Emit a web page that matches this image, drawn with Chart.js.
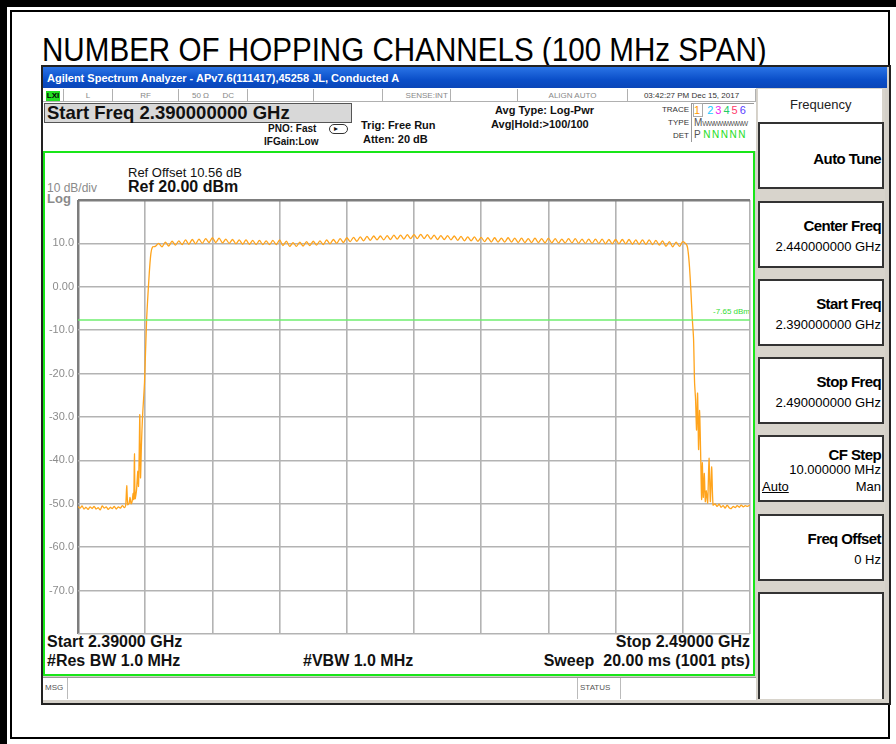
<!DOCTYPE html>
<html lang="en">
<head>
<meta charset="UTF-8">
<title>Number of Hopping Channels</title>
<script src="https://cdn.jsdelivr.net/npm/chart.js"></script>
<style>
  body { margin: 0; width: 896px; height: 744px; background: #fff; overflow: hidden; position: relative; font-family: 'Liberation Sans', Arial, sans-serif; }
  .a { position: absolute; }
  .t { position: absolute; white-space: nowrap; line-height: 1; color: #111; }
  .b { font-weight: bold; }
  .g { color: #8a8a8a; }
  .cell { position: absolute; top: 89px; height: 13px; border-right: 1px solid #b0b0b0; font-size: 8px; color: #888; line-height: 13px; text-align: center; }
  .key { position: absolute; left: 758px; width: 122px; background: #fff; border: 2px solid #333; }
  .key .k { position: absolute; right: 1px; font-weight: bold; font-size: 15px; letter-spacing: -0.6px; line-height: 1; white-space: nowrap; }
  .key .v { position: absolute; right: 1px; font-size: 13px; line-height: 1; white-space: nowrap; }
</style>
</head>
<body>
<!-- page frame -->
<div class="a" style="left:0;top:0;width:896px;height:7px;background:#000"></div>
<div class="a" style="left:0;top:0;width:7px;height:744px;background:#000"></div>
<div class="a" style="left:10px;top:10px;width:876px;height:725px;border:2px solid #000"></div>

<div class="t" style="left:42px;top:33px;font-family:'Liberation Sans Narrow','Liberation Sans',Arial,sans-serif;font-size:29.6px;color:#000;transform:scaleY(1.12);transform-origin:0 0">NUMBER OF HOPPING CHANNELS (100 MHz SPAN)</div>

<!-- analyzer window -->
<div class="a" style="left:41px;top:65px;width:846px;height:636px;background:#d4d0c8;border:2px solid #222"></div>
<div class="a" style="left:43px;top:67px;width:844px;height:21px;background:linear-gradient(#2a74e6,#0b4fc9 60%,#0a46b8)"></div>
<div class="t b" style="left:47px;top:73px;font-size:11px;color:#fff">Agilent Spectrum Analyzer - APv7.6(111417),45258 JL, Conducted A</div>

<!-- status row -->
<div class="a" style="left:43px;top:88px;width:713px;height:63px;background:#fff"></div>
<div class="a" style="left:43px;top:101px;width:713px;height:1px;background:#b0b0b0"></div>
<div class="cell" style="left:43px;width:20px"><span style="display:inline-block;background:#22dd22;color:#000;font-weight:bold;font-size:8px;line-height:10px;padding:0 1px">LXI</span></div>
<div class="cell" style="left:64px;width:48px">L</div>
<div class="cell" style="left:113px;width:65px">RF</div>
<div class="cell" style="left:179px;width:68px">50 &Omega;&nbsp;&nbsp;&nbsp;&nbsp;&nbsp;&nbsp;DC</div>
<div class="cell" style="left:248px;width:65px"></div>
<div class="cell" style="left:314px;width:68px"></div>
<div class="cell" style="left:383px;width:67px;text-align:right;padding-right:0">SENSE:INT&nbsp;</div>
<div class="cell" style="left:451px;width:66px"></div>
<div class="cell" style="left:518px;width:109px">ALIGN AUTO</div>
<div class="cell" style="left:628px;width:127px;color:#333">03:42:27 PM Dec 15, 2017</div>

<!-- measurement header -->
<div class="a" style="left:44px;top:103px;width:306px;height:18px;background:#d8d8d8;border:1px solid #555"></div>
<div class="t b" style="left:47px;top:104px;font-size:18.5px">Start Freq 2.390000000 GHz</div>
<div class="t b" style="left:268px;top:124px;font-size:10px">PNO: Fast</div>
<div class="t b" style="left:264px;top:137px;font-size:10px">IFGain:Low</div>
<div class="a" style="left:329px;top:124px;width:17px;height:8px;border:1px solid #333;border-radius:5px"></div>
<div class="t" style="left:334px;top:125px;font-size:8px">&#9656;</div>
<div class="t b" style="left:361px;top:120px;font-size:11px">Trig: Free Run</div>
<div class="t b" style="left:363px;top:134px;font-size:11px">Atten: 20 dB</div>
<div class="t b" style="left:495px;top:105px;font-size:11px">Avg Type: Log-Pwr</div>
<div class="t b" style="left:491px;top:119px;font-size:11px">Avg|Hold:&gt;100/100</div>
<div class="t" style="right:207px;top:106px;font-size:8px;color:#333">TRACE</div>
<div class="t" style="right:207px;top:119px;font-size:8px;color:#333">TYPE</div>
<div class="t" style="right:207px;top:132px;font-size:8px;color:#333">DET</div>
<div class="a" style="left:691px;top:103px;width:62px;height:38px;border-left:1px solid #999;border-top:1px solid #999"></div>
<div class="t" style="left:694px;top:105px;font-size:11px;letter-spacing:2px"><span style="color:#ff9a00;outline:1px solid #aaa">1</span> <span style="color:#19c8ff">2</span><span style="color:#ee22ee">3</span><span style="color:#22cc66">4</span><span style="color:#ff3a6a">5</span><span style="color:#5a3dff">6</span></div>
<div class="t" style="left:694px;top:118px;font-size:10px;color:#555">M<span style="font-size:7px;letter-spacing:-1px">WWWWWWWW</span></div>
<div class="t" style="left:694px;top:130px;font-size:10px;color:#555">P <span style="color:#22dd22;letter-spacing:1.5px">NNNNN</span></div>

<!-- soft keys -->
<div class="a" style="left:757px;top:88px;width:128px;height:613px;background:#d8d4cc"></div>
<div class="a" style="left:758px;top:89px;width:124px;height:33px;background:#fff"></div>
<div class="t" style="left:790px;top:98px;font-size:13px;color:#222">Frequency</div>
<div class="key" style="top:122px;height:63px"><div class="k" style="top:27px">Auto Tune</div></div>
<div class="key" style="top:201px;height:63px"><div class="k" style="top:15px">Center Freq</div><div class="v" style="top:37px">2.440000000 GHz</div></div>
<div class="key" style="top:279px;height:63px"><div class="k" style="top:15px">Start Freq</div><div class="v" style="top:37px">2.390000000 GHz</div></div>
<div class="key" style="top:357px;height:63px"><div class="k" style="top:15px">Stop Freq</div><div class="v" style="top:37px">2.490000000 GHz</div></div>
<div class="key" style="top:435px;height:63px"><div class="k" style="top:10px">CF Step</div><div class="v" style="top:26px">10.000000 MHz</div><div class="v" style="top:43px;left:2px;text-decoration:underline">Auto</div><div class="v" style="top:43px">Man</div></div>
<div class="key" style="top:514px;height:63px"><div class="k" style="top:15px">Freq Offset</div><div class="v" style="top:37px">0 Hz</div></div>
<div class="key" style="top:592px;height:105px;border-bottom:none"></div>

<!-- plot panel -->
<div class="a" style="left:43px;top:151px;width:708px;height:521px;background:#fff;border:2px solid #19e619"></div>
<div class="t" style="left:128px;top:166px;font-size:13px">Ref Offset 10.56 dB</div>
<div class="t b" style="left:128px;top:179px;font-size:16px">Ref 20.00 dBm</div>
<div class="t g" style="left:47px;top:182px;font-size:12px">10 dB/div</div>
<div class="t g b" style="left:47px;top:192px;font-size:13px">Log</div>
<div class="t" style="right:146px;top:308px;font-size:8px;color:#33dd33">-7.65 dBm</div>
<div class="t b" style="left:47px;top:634px;font-size:16px">Start 2.39000 GHz</div>
<div class="t b" style="right:146px;top:634px;font-size:16px">Stop 2.49000 GHz</div>
<div class="t b" style="left:47px;top:653px;font-size:16px">#Res BW 1.0 MHz</div>
<div class="t b" style="left:303px;top:653px;font-size:16px">#VBW 1.0 MHz</div>
<div class="t b" style="right:146px;top:653px;font-size:16px">Sweep&nbsp; 20.00 ms (1001 pts)</div>
<canvas id="spec" class="a" style="left:45px;top:153px" width="708" height="519"></canvas>

<!-- message bar -->
<div class="a" style="left:43px;top:677px;width:713px;height:22px;background:#fff;border-top:1px solid #999"></div>
<div class="t" style="left:45px;top:684px;font-size:8px;color:#555">MSG</div>
<div class="a" style="left:67px;top:678px;width:1px;height:21px;background:#bbb"></div>
<div class="a" style="left:577px;top:678px;width:42px;height:21px;border-left:1px solid #bbb;border-right:1px solid #bbb"></div>
<div class="t" style="left:580px;top:684px;font-size:8px;color:#555">STATUS</div>

<script>
// sweep settings
const startMHz = 2390;
const stopMHz = 2490;
const refLevel = 20;
const bottomLevel = -80;
const displayLine = -7.65;
const yTickLabels = ['', '10.0', '0.00', '-10.0', '-20.0', '-30.0', '-40.0', '-50.0', '-60.0', '-70.0', ''];

// trace 1 (max hold)
const lowSideMHz = [2390.0, 2390.3, 2390.6, 2390.9, 2391.2, 2391.5, 2391.8, 2392.1, 2392.4, 2392.7,
  2393.0, 2393.3, 2393.6, 2393.9, 2394.2, 2394.5, 2394.8, 2395.1, 2395.4, 2395.7,
  2396.0, 2396.3, 2396.6, 2396.9, 2397.1, 2397.25, 2397.4, 2397.6, 2397.75, 2397.9,
  2398.05, 2398.2, 2398.3, 2398.4, 2398.5, 2398.7, 2398.9, 2399.0, 2399.1, 2399.2,
  2399.3, 2399.45, 2399.6, 2399.9, 2400.2, 2400.6, 2400.85, 2401.1];
const lowSideDbm = [-50.6, -51.0, -50.5, -51.2, -50.8, -51.3, -50.7, -51.1, -50.6, -51.2,
  -50.9, -51.4, -50.5, -51.0, -50.7, -51.3, -50.8, -51.1, -50.6, -51.2,
  -50.7, -51.0, -50.4, -50.9, -50.3, -45.8, -50.2, -49.9, -48.5, -50.0,
  -49.5, -47.6, -49.0, -38.5, -48.8, -47.0, -42.5, -46.0, -39.0, -29.5,
  -44.0, -36.0, -30.0, -22.0, -8.0, 3.0, 7.7, 9.2];

const bandMHz = [2401.5, 2402, 2402.5, 2403, 2403.5, 2404, 2404.5, 2405, 2405.5, 2406,
  2406.5, 2407, 2407.5, 2408, 2408.5, 2409, 2409.5, 2410, 2410.5, 2411,
  2411.5, 2412, 2412.5, 2413, 2413.5, 2414, 2414.5, 2415, 2415.5, 2416,
  2416.5, 2417, 2417.5, 2418, 2418.5, 2419, 2419.5, 2420, 2420.5, 2421,
  2421.5, 2422, 2422.5, 2423, 2423.5, 2424, 2424.5, 2425, 2425.5, 2426,
  2426.5, 2427, 2427.5, 2428, 2428.5, 2429, 2429.5, 2430, 2430.5, 2431,
  2431.5, 2432, 2432.5, 2433, 2433.5, 2434, 2434.5, 2435, 2435.5, 2436,
  2436.5, 2437, 2437.5, 2438, 2438.5, 2439, 2439.5, 2440, 2440.5, 2441,
  2441.5, 2442, 2442.5, 2443, 2443.5, 2444, 2444.5, 2445, 2445.5, 2446,
  2446.5, 2447, 2447.5, 2448, 2448.5, 2449, 2449.5, 2450, 2450.5, 2451,
  2451.5, 2452, 2452.5, 2453, 2453.5, 2454, 2454.5, 2455, 2455.5, 2456,
  2456.5, 2457, 2457.5, 2458, 2458.5, 2459, 2459.5, 2460, 2460.5, 2461,
  2461.5, 2462, 2462.5, 2463, 2463.5, 2464, 2464.5, 2465, 2465.5, 2466,
  2466.5, 2467, 2467.5, 2468, 2468.5, 2469, 2469.5, 2470, 2470.5, 2471,
  2471.5, 2472, 2472.5, 2473, 2473.5, 2474, 2474.5, 2475, 2475.5, 2476,
  2476.5, 2477, 2477.5, 2478, 2478.5, 2479, 2479.5, 2480];
const bandDbm = [9.3, 10.0, 9.2, 10.3, 9.4, 10.5, 9.6, 10.6, 9.7, 10.8,
  9.8, 10.9, 9.9, 11.0, 10.0, 11.1, 10.2, 11.3, 10.2, 11.2,
  10.1, 11.0, 10.0, 10.9, 9.9, 10.8, 9.8, 10.8, 9.8, 10.7,
  9.7, 10.7, 9.7, 10.6, 9.7, 10.7, 9.7, 10.8, 9.5, 10.5,
  9.3, 10.2, 9.3, 10.3, 9.4, 10.4, 9.5, 10.5, 9.6, 10.6,
  9.7, 10.8, 9.9, 10.9, 10.0, 11.1, 10.2, 11.3, 10.4, 11.4,
  10.5, 11.5, 10.6, 11.6, 10.7, 11.7, 10.8, 11.7, 10.8, 11.8,
  10.9, 11.9, 11.0, 11.9, 11.0, 12.0, 11.1, 12.0, 11.1, 12.1,
  11.1, 12.0, 11.0, 11.9, 10.9, 11.8, 10.9, 11.8, 10.8, 11.7,
  10.7, 11.6, 10.6, 11.5, 10.6, 11.5, 10.5, 11.4, 10.4, 11.3,
  10.3, 11.3, 10.3, 11.2, 10.3, 11.3, 10.3, 11.2, 10.2, 11.2,
  10.2, 11.1, 10.2, 11.2, 10.2, 11.1, 10.1, 11.2, 10.1, 11.1,
  10.1, 11.0, 10.1, 11.1, 10.1, 11.1, 10.0, 11.0, 10.0, 11.0,
  10.0, 11.0, 10.0, 11.0, 9.9, 10.9, 9.9, 10.9, 9.9, 10.9,
  9.9, 10.9, 9.8, 10.8, 9.8, 10.8, 9.8, 10.8, 9.7, 10.7,
  9.6, 10.6, 9.3, 10.4, 9.2, 10.3, 9.3, 10.4];

const highSideMHz = [2480.6, 2480.8, 2481.0, 2481.2, 2481.4, 2481.6, 2481.75, 2481.9, 2482.05, 2482.2,
  2482.35, 2482.5, 2482.65, 2482.8, 2482.9, 2483.05, 2483.2, 2483.35, 2483.5, 2483.7,
  2483.9, 2484.1, 2484.3, 2484.5, 2484.8, 2485.1, 2485.4, 2485.7, 2486.0, 2486.3,
  2486.6, 2486.9, 2487.2, 2487.5, 2487.8, 2488.1, 2488.4, 2488.7, 2489.0, 2489.3,
  2489.6, 2490.0];
const highSideDbm = [9.6, 8.0, 4.5, -0.8, -7.0, -12.0, -22.0, -26.0, -33.0, -24.5,
  -37.5, -28.5, -38.0, -49.0, -40.5, -48.5, -43.0, -49.5, -47.0, -49.8,
  -39.5, -49.5, -41.5, -50.3, -50.0, -50.6, -50.1, -50.8, -50.4, -51.0,
  -50.3, -50.9, -51.1, -50.6, -50.9, -50.4, -50.8, -50.3, -50.7, -50.4,
  -50.6, -50.3];

const traceMHz = lowSideMHz.concat(bandMHz, highSideMHz);
const traceDbm = lowSideDbm.concat(bandDbm, highSideDbm);
const tracePoints = traceMHz.map((f, i) => ({ x: f, y: traceDbm[i] }));

const ctx = document.getElementById('spec').getContext('2d');

new Chart(ctx, {
  type: 'line',
  data: {
    datasets: [{
      label: 'Display line',
      data: [{ x: startMHz, y: displayLine }, { x: stopMHz, y: displayLine }],
      borderColor: '#6fee6f',
      borderWidth: 1.5,
      pointRadius: 0
    }, {
      label: 'Trace 1',
      data: tracePoints,
      borderColor: '#ffa41c',
      borderWidth: 1.3,
      pointRadius: 0,
      tension: 0.25
    }]
  },
  options: {
    responsive: false,
    animation: false,
    layout: { padding: { left: 0, right: 3, top: 47, bottom: 38 } },
    plugins: { legend: { display: false }, tooltip: { enabled: false } },
    scales: {
      x: {
        type: 'linear',
        min: startMHz,
        max: stopMHz,
        ticks: { stepSize: 10, display: false },
        grid: {
          drawTicks: false,
          color: (c) => (c.tick && c.tick.value === startMHz) ? '#7d7d7d' : '#b3b3b3',
          lineWidth: (c) => (c.tick && c.tick.value === startMHz) ? 2.5 : 1.6
        },
        border: { display: false },
        afterFit: (s) => { s.height = 0; }
      },
      y: {
        min: bottomLevel,
        max: refLevel,
        ticks: {
          stepSize: 10,
          padding: 4,
          color: '#8c8c8c',
          font: { family: "'Liberation Sans', Arial, sans-serif", size: 11 },
          callback: (v, i) => yTickLabels[yTickLabels.length - 1 - i]
        },
        grid: {
          drawTicks: false,
          color: (c) => (c.tick && c.tick.value === refLevel) ? '#7d7d7d' : '#b3b3b3',
          lineWidth: (c) => (c.tick && c.tick.value === refLevel) ? 2.5 : 1.6
        },
        border: { display: false },
        afterFit: (s) => { s.width = 33; }
      }
    }
  }
});
</script>
</body>
</html>
